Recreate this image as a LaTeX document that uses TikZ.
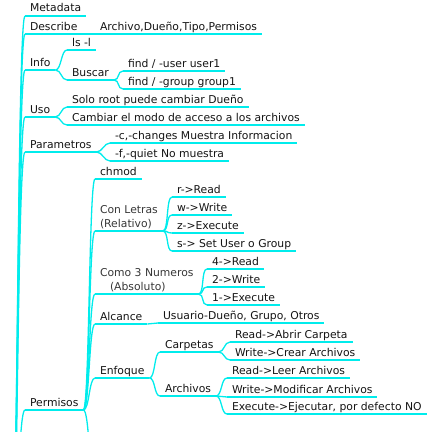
\documentclass[tikz,border=0pt]{standalone}
\usepackage{fontspec}
\setmainfont{DejaVu Sans}
\definecolor{edgecyan}{RGB}{0,236,236}
\definecolor{txt}{RGB}{20,20,20}
\definecolor{txtlight}{RGB}{55,55,55}
\newcommand\lnk[2]{\draw[edgeline] (#1.south east) .. controls +(6,0) and +(-6,0) .. (#2.south west);}
\tikzset{
  topic/.style={anchor=south west, inner xsep=5pt, inner ysep=0pt, outer sep=0pt,
    text depth=4pt, text=txt, font=\fontsize{10.8}{14}\selectfont, align=left},
  lighttopic/.style={topic, text=txtlight},
  edgeline/.style={draw=edgecyan, line width=1.3pt},
  uline/.style={draw=edgecyan, line width=1.3pt}
}
\begin{document}
\begin{tikzpicture}[x=1pt,y=-1pt]
\useasboundingbox (0,0) rectangle (439,431);
\clip (0,0) rectangle (439,431);
\coordinate (root) at (10,600);
\coordinate (below) at (95,480);
% level 1
\node[topic] (meta) at (25,16) {Metadata};
\node[topic] (desc) at (25,34) {Describe};
\node[topic] (info) at (25,70) {Info};
\node[topic] (uso) at (25,117) {Uso};
\node[topic] (param) at (25,152) {Parametros};
\node[topic] (perm) at (25,410) {Permisos};
% describe
\node[topic] (arch) at (95,34) {Archivo,Dueño,Tipo,Permisos};
% info
\node[topic] (ls) at (67,50) {ls -l};
\node[topic] (buscar) at (67,80) {Buscar};
\node[topic] (find1) at (123,71) {find / -user user1};
\node[topic] (find2) at (123,89) {find / -group group1};
% uso
\node[topic] (solo) at (67,107) {Solo root puede cambiar Dueño};
\node[topic] (cambiar) at (67,125) {Cambiar el modo de acceso a los archivos};
% parametros
\node[topic] (pc) at (110,143) {-c,-changes Muestra Informacion};
\node[topic] (pf) at (110,161) {-f,-quiet No muestra};
% permisos
\node[topic] (chmod) at (95,179) {chmod};
\node[lighttopic] (letras) at (95,231) {Con Letras\\(Relativo)};
\node[topic] (lr) at (172,197) {r->Read};
\node[topic] (lw) at (172,215) {w->Write};
\node[topic] (lz) at (172,233) {z->Execute};
\node[topic] (ls2) at (172,251) {s-> Set User o Group};
\node[lighttopic] (nums) at (95,294) {Como 3 Numeros\\\hspace*{10pt}(Absoluto)};
\node[topic] (n4) at (207,269) {4->Read};
\node[topic] (n2) at (207,287) {2->Write};
\node[topic] (n1) at (207,305) {1->Execute};
\node[topic] (alc) at (95,324) {Alcance};
\node[topic] (usu) at (158,323) {Usuario-Dueño, Grupo, Otros};
\node[topic] (enf) at (95,378) {Enfoque};
\node[topic] (carp) at (160,352) {Carpetas};
\node[topic] (rabrir) at (230,342) {Read->Abrir Carpeta};
\node[topic] (wcrear) at (230,360) {Write->Crear Archivos};
\node[topic] (archs) at (160,396) {Archivos};
\node[topic] (rleer) at (227,378) {Read->Leer Archivos};
\node[topic] (wmod) at (227,397) {Write->Modificar Archivos};
\node[topic] (exe) at (227,414) {Execute->Ejecutar, por defecto NO};
% underlines
\foreach \n in {meta,desc,info,uso,param,perm,arch,ls,buscar,find1,find2,solo,cambiar,pc,pf,chmod,letras,lr,lw,lz,ls2,nums,n4,n2,n1,alc,usu,enf,carp,rabrir,wcrear,archs,rleer,wmod,exe}
  \draw[uline] (\n.south west) -- (\n.south east);
% root edges
\foreach \n in {meta,desc,info,uso,param,perm}
  \draw[edgeline] (root) .. controls +(8,0) and +(-8,0) .. (\n.south west);
% edges
\lnk{desc}{arch}
\lnk{info}{ls}
\lnk{info}{buscar}
\lnk{buscar}{find1}
\lnk{buscar}{find2}
\lnk{uso}{solo}
\lnk{uso}{cambiar}
\lnk{param}{pc}
\lnk{param}{pf}
\lnk{perm}{chmod}
\lnk{perm}{letras}
\lnk{perm}{nums}
\lnk{perm}{alc}
\lnk{perm}{enf}
\draw[edgeline] (perm.south east) .. controls +(6,0) and +(-6,0) .. (below);
\lnk{letras}{lr}
\lnk{letras}{lw}
\lnk{letras}{lz}
\lnk{letras}{ls2}
\lnk{nums}{n4}
\lnk{nums}{n2}
\lnk{nums}{n1}
\lnk{alc}{usu}
\lnk{enf}{carp}
\lnk{enf}{archs}
\lnk{carp}{rabrir}
\lnk{carp}{wcrear}
\lnk{archs}{rleer}
\lnk{archs}{wmod}
\lnk{archs}{exe}
\end{tikzpicture}
\end{document}
